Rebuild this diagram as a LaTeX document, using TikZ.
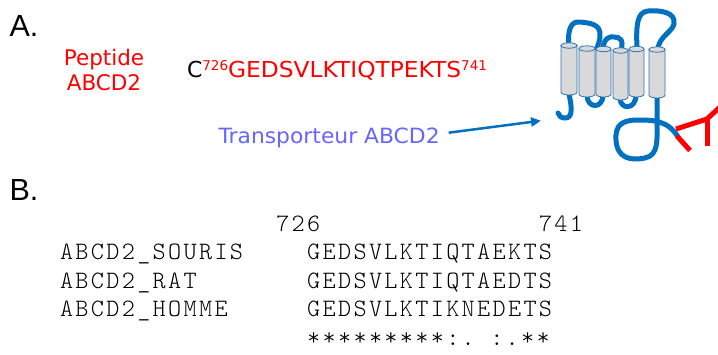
\documentclass[tikz,border=0pt]{standalone}
\usepackage{fontspec}
\usepackage{graphicx}
\setmainfont{DejaVu Sans}
\newfontfamily\arialfont{Liberation Sans}
\newfontfamily\alnmono{lmmonolt10-regular.otf}[LetterSpace=9.3]
\usetikzlibrary{arrows.meta}
\definecolor{protblue}{RGB}{0,112,192}
\definecolor{cylgray}{RGB}{217,217,217}
\definecolor{cyledge}{RGB}{46,117,182}
\definecolor{labelblue}{RGB}{102,102,255}
\definecolor{pepred}{RGB}{255,0,0}
\newcommand\drawcyl[4]{%
  \filldraw[cylstyle] (#1,#3) -- (#1,#4) .. controls (#1,{#4+4}) and (#2,{#4+4}) .. (#2,#4) -- (#2,#3) -- cycle;
  \filldraw[cylstyle] ({(#1+#2)/2},#3) ellipse [x radius={(#2-#1)/2*1pt}, y radius=2.7pt];
}
\newcommand\alnfont{\alnmono\fontsize{25}{30}\selectfont}
\begin{document}
\begin{tikzpicture}[x=1pt,y=-1pt,
  txt/.style={inner sep=0pt, outer sep=0pt, anchor=base west},
  ctxt/.style={inner sep=0pt, outer sep=0pt, anchor=base},
  headfont/.style={font=\arialfont\fontsize{30.5}{36}\selectfont},
  mono/.style={txt, font=\alnfont},
  loopline/.style={draw=protblue, line width=5pt, line cap=round},
  tagline/.style={draw=pepred, line width=5pt},
  cylstyle/.style={fill=cylgray, draw=cyledge, line width=0.8pt}]
\useasboundingbox (0,0) rectangle (718,354);

% Section labels
\node[txt, headfont] (labA) at (9.5,36.7) {A.};
\node[txt, headfont] (labB) at (9.5,200) {B.};

% Peptide label
\node[ctxt, text=pepred, font=\fontsize{21.5}{25}\selectfont] (pep1) at (104,65) {Peptide};
\node[ctxt, text=pepred, font=\fontsize{21.5}{25}\selectfont] (pep2) at (104,90.7) {ABCD2};

% Peptide sequence
\node[txt, font=\fontsize{22}{26}\selectfont] (seq) at (187,77)
  {C\raisebox{6.3pt}{\fontsize{13.5}{15}\selectfont\color{pepred}726}\scalebox{1.06}[1]{\color{pepred}GEDSVLKTIQTPEKTS}\raisebox{6.3pt}{\fontsize{13.5}{15}\selectfont\color{pepred}741}};

% Transporteur label and arrow
\node[txt, text=labelblue, font=\fontsize{21}{25}\selectfont] (trans) at (218.5,143) {\scalebox{1.04}[1]{Transporteur ABCD2}};
\coordinate (arrTip) at (541,120.7);
\draw[protblue, line width=2.5pt, -{Triangle[length=10pt,width=9pt]}] ([xshift=9pt,yshift=4.7pt]trans.east) -- (arrTip);

% Protein: loops (behind cylinders)
\draw[loopline] (569,46) .. controls (567,28) and (572,21) .. (580,22) .. controls (590,23) and (601,24) .. (600,36) .. controls (600,41) and (598,44) .. (597,48);
\draw[loopline] (603,48) .. controls (604,38) and (610,36) .. (614,37) .. controls (620,37) and (624,40) .. (621,50);
\draw[loopline] (637,48) .. controls (636,25) and (637,12) .. (648,11) .. controls (660,10) and (676,12) .. (674,24) .. controls (672,32) and (660,36) .. (658,48);
\draw[loopline] (587,95) .. controls (587,109) and (603,109) .. (603,95);
\draw[loopline] (620,98) .. controls (620,110) and (636,110) .. (636,95);
\draw[loopline] (569,94) .. controls (572,108) and (573,118) .. (565,118) .. controls (561,118) and (559,116) .. (558,113);
\draw[loopline] (657,96) -- (657,120) .. controls (657,140) and (659,155) .. (645,158) .. controls (630,161) and (617,158) .. (616,140) .. controls (615,125) and (622,120) .. (638,120) .. controls (652,120) and (668,120) .. (678,137);
% red tag
\draw[tagline] (677,136) -- (690,150.5);
\draw[tagline] (676,129) -- (707,119);
\draw[tagline] (707,119) -- (707,146);
\draw[tagline] (707,119) -- (720,107);

% Cylinders
\drawcyl{561}{577}{45.5}{92}
\drawcyl{579}{595}{48.5}{94}
\drawcyl{596}{611}{49}{94}
\drawcyl{613}{628}{50.5}{97}
\drawcyl{629}{644}{49}{94}
\drawcyl{649}{665}{49.5}{95}

% Alignment
\node[mono] (n726) at (276.3,231.5) {726};
\node[mono] (n741) at (539,231.5) {741};
\node[mono] (l1) at (60,259.5) {ABCD2\_SOURIS};
\node[mono] (s1) at (307.2,259.5) {GEDSVLKTIQTAEKTS};
\node[mono] (l2) at (60,288) {ABCD2\_RAT};
\node[mono] (s2) at (307.2,288) {GEDSVLKTIQTAEDTS};
\node[mono] (l3) at (60,316.5) {ABCD2\_HOMME};
\node[mono] (s3) at (307.2,316.5) {GEDSVLKTIKNEDETS};
\node[mono] (cons) at (307.2,345) {*********:.\hspace{15.45pt}:.**};
\end{tikzpicture}
\end{document}
